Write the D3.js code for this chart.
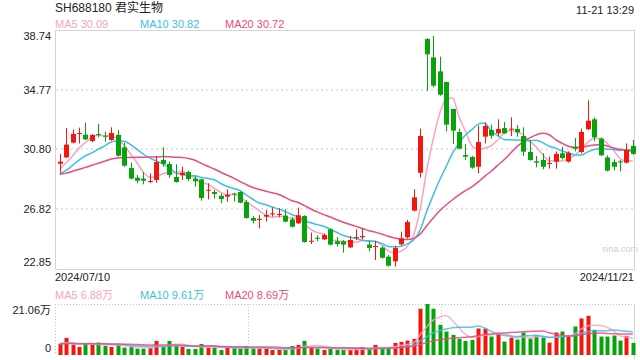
<!DOCTYPE html>
<html>
<head>
<meta charset="utf-8">
<script src="https://cdn.jsdelivr.net/npm/d3@7"></script>
<style>
  body { margin: 0; background: #fff; }
  text { font-family: Arial, "Liberation Sans", "Noto Sans CJK SC", sans-serif; }
</style>
</head>
<body>
<svg width="640" height="360"></svg>
<script>
const svg = d3.select("svg");

const titleText = "SH688180 君实生物";
const timeText = "11-21 13:29";
const startDate = "2024/07/10";
const endDate = "2024/11/21";
const watermark = "sina.com";

// Daily prices, 2024/07/10 .. 2024/11/21
const opens = [29.85, 30.27, 31.25, 31.85, 31.78, 31.36, 31.82, 31.71, 31.43, 31.76,
    30.94, 29.56, 28.92, 28.86, 28.66, 28.77, 30.10, 29.83, 28.97, 29.08,
    29.30, 28.86, 28.81, 28.06, 27.97, 27.72, 27.66, 27.86, 27.97, 27.30,
    26.24, 26.13, 26.33, 26.48, 26.44, 26.40, 26.15, 25.89, 26.37, 24.67,
    24.93, 24.82, 25.49, 24.69, 24.69, 24.29, 24.89, 24.96, 24.47, 24.33,
    24.27, 23.67, 23.36, 24.49, 24.96, 26.73, 29.25, 38.14, 36.92, 35.99,
    35.28, 33.49, 31.96, 30.43, 30.30, 29.65, 31.65, 32.09, 31.87, 32.22,
    32.14, 32.16, 31.69, 30.63, 30.01, 30.10, 29.85, 29.99, 30.54, 29.99,
    30.98, 30.63, 32.14, 32.80, 31.52, 30.27, 29.96, 30.01, 29.92, 31.03];
const closes = [29.99, 31.12, 31.83, 31.89, 31.47, 31.76, 31.76, 31.65, 31.89, 30.38,
    29.72, 28.86, 28.72, 28.72, 28.70, 29.96, 29.83, 29.10, 28.63, 29.25,
    28.83, 28.68, 27.57, 28.12, 27.84, 27.50, 27.79, 27.81, 27.26, 26.24,
    26.06, 26.18, 26.44, 26.55, 26.51, 26.00, 25.66, 26.42, 24.65, 24.73,
    24.87, 25.11, 24.47, 24.51, 24.47, 24.78, 24.96, 25.04, 24.25, 24.38,
    23.60, 23.07, 24.25, 24.89, 25.97, 27.61, 31.69, 37.12, 35.04, 34.44,
    32.45, 32.05, 30.85, 30.32, 29.59, 31.29, 32.36, 31.71, 32.16, 31.87,
    32.18, 31.94, 30.65, 30.10, 29.92, 29.65, 29.90, 30.50, 30.23, 30.58,
    30.85, 31.96, 32.71, 31.60, 30.41, 29.39, 29.65, 29.94, 30.76, 30.50];
const highs = [30.50, 32.22, 32.14, 32.25, 32.58, 31.82, 32.49, 31.98, 32.27, 32.09,
    31.25, 29.92, 29.10, 29.30, 29.21, 30.36, 30.94, 29.99, 29.81, 29.65,
    29.39, 29.03, 28.86, 28.55, 28.10, 27.88, 28.15, 27.92, 28.01, 27.44,
    26.37, 26.44, 26.77, 26.95, 26.88, 26.82, 26.29, 26.93, 26.42, 25.27,
    25.09, 25.22, 25.55, 24.98, 24.78, 25.04, 25.49, 25.55, 24.73, 24.73,
    24.38, 23.78, 24.40, 25.33, 26.11, 28.15, 32.18, 38.20, 38.34, 36.97,
    35.30, 33.49, 32.18, 31.16, 30.36, 32.40, 32.58, 32.45, 32.80, 32.62,
    32.93, 32.42, 32.27, 31.43, 30.36, 30.54, 30.32, 30.67, 30.98, 30.67,
    31.56, 32.18, 34.06, 32.93, 31.60, 30.41, 30.14, 30.10, 31.20, 31.43];
const lows = [29.25, 30.23, 31.20, 31.20, 31.43, 31.29, 31.60, 31.32, 31.38, 30.32,
    29.65, 28.81, 28.55, 28.48, 28.55, 28.59, 29.65, 28.92, 28.59, 28.77,
    28.68, 28.32, 27.39, 27.48, 27.53, 27.22, 27.33, 27.33, 27.22, 26.20,
    25.89, 25.55, 26.00, 26.33, 26.29, 25.95, 25.62, 25.84, 24.60, 24.51,
    24.69, 24.78, 24.42, 24.34, 23.94, 24.25, 24.78, 24.82, 24.03, 23.45,
    23.54, 23.01, 23.01, 24.42, 24.87, 26.68, 28.94, 34.68, 34.93, 34.37,
    32.00, 31.16, 30.81, 30.10, 29.52, 29.21, 31.20, 31.52, 31.69, 31.83,
    31.69, 31.65, 30.36, 30.05, 29.61, 29.48, 29.52, 29.52, 30.14, 29.92,
    30.67, 30.54, 32.09, 31.34, 30.36, 29.34, 29.43, 29.34, 29.87, 30.45];
// Volume in 万
const volumes = [4.57, 7.06, 4.28, 3.32, 4.70, 4.28, 5.12, 3.74, 3.32, 4.15,
    3.04, 3.46, 2.63, 2.63, 2.91, 5.82, 3.46, 5.82, 3.74, 3.32,
    2.49, 2.49, 4.57, 3.18, 3.04, 2.08, 3.04, 3.04, 2.63, 3.74,
    2.63, 2.63, 2.63, 2.08, 2.08, 2.08, 3.74, 4.15, 5.82, 3.18,
    2.63, 2.08, 2.49, 2.08, 2.08, 2.08, 2.49, 3.19, 2.49, 4.15,
    2.77, 2.77, 4.98, 5.40, 5.95, 6.65, 19.11, 21.06, 19.11, 12.46,
    9.69, 8.31, 6.65, 5.82, 6.23, 10.94, 10.94, 7.61, 8.72, 5.54,
    7.20, 6.37, 9.28, 6.78, 8.17, 7.20, 5.12, 9.28, 9.69, 7.89,
    11.77, 15.09, 16.20, 10.38, 7.61, 7.61, 8.03, 5.95, 7.89, 4.98];

// Sessions before the first candle, only needed to start the moving averages
const prevCloses = [29.6, 29.4, 29.2, 29.0, 28.9, 29.1, 29.0, 28.8, 29.0, 29.3,
    28.8, 28.5, 28.4, 28.5, 29.9, 29.2, 29.5, 29.3, 29.6];
const prevVolumes = [4.6, 4.4, 4.8, 4.5, 4.3, 4.7, 4.6, 4.4, 4.9, 4.5,
    4.6, 4.8, 4.4, 4.7, 4.5, 4.6, 4.9, 4.4, 4.6];

// Legend values as printed on the chart
const priceMALabels = [30.09, 30.82, 30.72];
const volumeMALabels = [6.88, 9.61, 8.69];

const priceTicks = [22.85, 26.82, 30.80, 34.77, 38.74];
const volumeTicks = [0, 21.06];

const maPeriods = [5, 10, 20];
const maColors = ["#f9a3c0", "#3cc1e4", "#ef4a7c"];
const upColor = "#f2160c";
const downColor = "#08a20c";

const plot = {left: 55, right: 634, top: 30, bottom: 269};
const volPlot = {top: 304, bottom: 355};

const n = closes.length;

/**
 * Moving average of a series, using the earlier sessions for the first values
 */
movingAverage = (prev, series, period) => {
    const all = prev.concat(series);
    return series.map((d, i) => {
        const end = prev.length + i + 1;
        return d3.mean(all.slice(end - period, end));
    });
};

const x = d3.scaleBand()
    .domain(d3.range(n))
    .range([56.48, 636.08])
    .paddingInner(0.22)
    .paddingOuter(0.11);
const xc = i => x(i) + x.bandwidth() / 2;

const y = d3.scaleLinear()
    .domain([priceTicks[0], priceTicks[priceTicks.length - 1]])
    .range([plot.bottom, plot.top]);

const yv = d3.scaleLinear()
    .domain([volumeTicks[0], volumeTicks[1]])
    .range([volPlot.bottom, volPlot.top]);

const isUp = i => closes[i] >= opens[i];

// Header
svg.append("text")
    .attr("x", 55).attr("y", 12)
    .attr("font-size", 12).attr("fill", "#222")
    .text(titleText);

svg.append("text")
    .attr("x", 634).attr("y", 14)
    .attr("text-anchor", "end")
    .attr("font-size", 11).attr("fill", "#222")
    .text(timeText);

const priceMA = maPeriods.map(p => movingAverage(prevCloses, closes, p));
const volumeMA = maPeriods.map(p => movingAverage(prevVolumes, volumes, p));

const legendX = [55, 140, 225];
maPeriods.forEach((p, k) => {
    svg.append("text")
        .attr("x", legendX[k]).attr("y", 28)
        .attr("font-size", 11).attr("fill", maColors[k])
        .text(`MA${p} ${priceMALabels[k].toFixed(2)}`);
    svg.append("text")
        .attr("x", legendX[k]).attr("y", 299)
        .attr("font-size", 11).attr("fill", maColors[k])
        .text(`MA${p} ${volumeMALabels[k].toFixed(2)}万`);
});

// Price panel frame and grid
svg.append("rect")
    .attr("x", plot.left + 0.5).attr("y", plot.top + 0.5)
    .attr("width", plot.right - plot.left).attr("height", plot.bottom - plot.top)
    .attr("fill", "none").attr("stroke", "#d4d4d4");

svg.append("g")
    .selectAll("line").data(priceTicks.slice(1, -1))
    .enter().append("line")
    .attr("x1", plot.left + 1).attr("x2", plot.right)
    .attr("y1", d => Math.round(y(d))).attr("y2", d => Math.round(y(d)))
    .attr("stroke", "#e3e3e3").attr("stroke-width", 2)
    .attr("stroke-dasharray", "2,3");

svg.append("text")
    .attr("x", 620).attr("y", 252)
    .attr("text-anchor", "middle")
    .attr("font-size", 9).attr("fill", "#d0d0d0")
    .text(watermark);

const yAxis = svg.append("g")
    .attr("transform", `translate(${plot.left - 4},0)`)
    .call(d3.axisLeft(y).tickValues(priceTicks).tickSize(0).tickPadding(0)
        .tickFormat(d3.format(".2f")));
yAxis.select(".domain").remove();
yAxis.selectAll("text")
    .attr("font-size", 11).attr("fill", "#222")
    .attr("dy", (d, i) => i === 0 ? "-0.35em" : (i === priceTicks.length - 1 ? "0.85em" : "0.32em"));

svg.append("text")
    .attr("x", 55).attr("y", 281)
    .attr("font-size", 11).attr("fill", "#222")
    .text(startDate);
svg.append("text")
    .attr("x", 634).attr("y", 281)
    .attr("text-anchor", "end")
    .attr("font-size", 11).attr("fill", "#222")
    .text(endDate);

// Moving average lines
const priceLine = d3.line().x((d, i) => xc(i)).y(d => y(d)).curve(d3.curveMonotoneX);
priceMA.forEach((series, k) => {
    svg.append("path")
        .datum(series)
        .attr("fill", "none")
        .attr("stroke", maColors[k])
        .attr("stroke-width", 1.5)
        .attr("d", priceLine);
});

// Candles
const candles = svg.append("g").selectAll("g").data(d3.range(n))
    .enter().append("g")
    .attr("fill", i => isUp(i) ? upColor : downColor)
    .attr("stroke", i => isUp(i) ? upColor : downColor);

candles.append("line")
    .attr("x1", i => Math.round(xc(i)) + 0.5).attr("x2", i => Math.round(xc(i)) + 0.5)
    .attr("y1", i => y(highs[i])).attr("y2", i => y(lows[i]));

candles.append("rect")
    .attr("stroke", "none")
    .attr("x", i => Math.round(xc(i)) - 2)
    .attr("width", 5)
    .attr("y", i => y(Math.max(opens[i], closes[i])))
    .attr("height", i => Math.max(1, Math.abs(y(opens[i]) - y(closes[i]))));

// Volume panel
const volGrid = svg.append("g")
    .attr("stroke", "#c4c4c4").attr("stroke-dasharray", "1,2");
volGrid.append("line")
    .attr("x1", plot.left).attr("x2", plot.right)
    .attr("y1", volPlot.top + 0.5).attr("y2", volPlot.top + 0.5);
[plot.left, plot.left + (plot.right - plot.left) / 3, plot.left + 2 * (plot.right - plot.left) / 3]
    .forEach(gx => {
        volGrid.append("line")
            .attr("x1", Math.round(gx) + 0.5).attr("x2", Math.round(gx) + 0.5)
            .attr("y1", volPlot.top).attr("y2", volPlot.bottom);
    });
svg.append("line")
    .attr("x1", plot.right + 0.5).attr("x2", plot.right + 0.5)
    .attr("y1", volPlot.top).attr("y2", 360)
    .attr("stroke", "#d4d4d4");

const vAxis = svg.append("g")
    .attr("transform", `translate(${plot.left - 4},0)`)
    .call(d3.axisLeft(yv).tickValues(volumeTicks).tickSize(0).tickPadding(0)
        .tickFormat(d => d === 0 ? "0" : d.toFixed(2) + "万"));
vAxis.select(".domain").remove();
vAxis.selectAll("text")
    .attr("font-size", 11).attr("fill", "#222")
    .attr("dy", (d, i) => i === 0 ? "-0.35em" : "0.9em");

svg.append("g").selectAll("rect").data(volumes)
    .enter().append("rect")
    .attr("x", (d, i) => Math.round(xc(i)) - 1.5)
    .attr("width", 4)
    .attr("y", d => yv(d))
    .attr("height", d => volPlot.bottom - yv(d))
    .attr("fill", (d, i) => isUp(i) ? upColor : downColor);

const volLine = d3.line().x((d, i) => xc(i)).y(d => yv(d)).curve(d3.curveMonotoneX);
volumeMA.forEach((series, k) => {
    svg.append("path")
        .datum(series)
        .attr("fill", "none")
        .attr("stroke", maColors[k])
        .attr("stroke-width", 1.5)
        .attr("opacity", 0.85)
        .attr("d", volLine);
});
</script>
</body>
</html>
